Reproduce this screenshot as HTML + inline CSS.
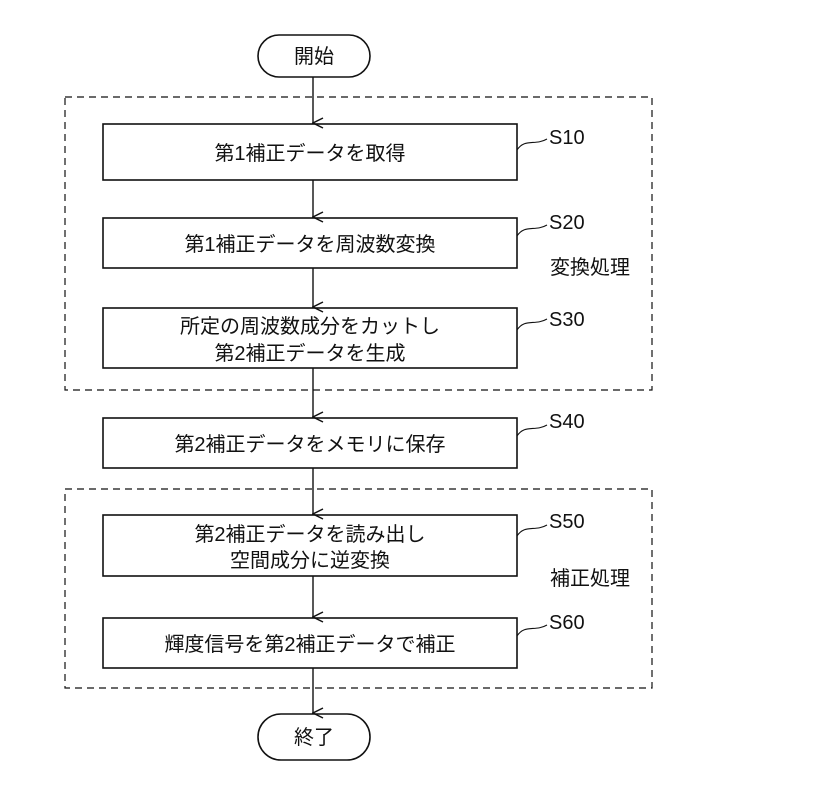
<!DOCTYPE html>
<html><head><meta charset="utf-8"><style>
html,body{margin:0;padding:0;background:#fff;}
svg text{font-family:"Liberation Sans","Noto Sans CJK JP",sans-serif;fill:#111;}
</style></head><body>
<svg width="815" height="791" viewBox="0 0 815 791" xmlns="http://www.w3.org/2000/svg">
<defs><marker id="a" markerWidth="12" markerHeight="12" refX="6" refY="11" orient="auto" markerUnits="userSpaceOnUse"><path d="M1,1 L6,11 L11,1" fill="none" stroke="#111" stroke-width="1.5"/></marker></defs>
<g fill="none" stroke="#111" stroke-width="1.6">
<rect x="258" y="35" width="112" height="42" rx="21"/>
<rect x="258" y="714" width="112" height="46" rx="23"/>
<rect x="65" y="97" width="587" height="293" stroke-dasharray="7,5" stroke-width="1.2"/>
<rect x="65" y="489" width="587" height="199" stroke-dasharray="7,5" stroke-width="1.2"/>
<rect x="103" y="124" width="414" height="56"/>
<rect x="103" y="218" width="414" height="50"/>
<rect x="103" y="308" width="414" height="60"/>
<rect x="103" y="418" width="414" height="50"/>
<rect x="103" y="515" width="414" height="61"/>
<rect x="103" y="618" width="414" height="50"/>
<g stroke-width="1.4">
<line x1="313" y1="77" x2="313" y2="123" marker-end="url(#a)"/>
<line x1="313" y1="180" x2="313" y2="217" marker-end="url(#a)"/>
<line x1="313" y1="268" x2="313" y2="307" marker-end="url(#a)"/>
<line x1="313" y1="368" x2="313" y2="417" marker-end="url(#a)"/>
<line x1="313" y1="468" x2="313" y2="514" marker-end="url(#a)"/>
<line x1="313" y1="576" x2="313" y2="617" marker-end="url(#a)"/>
<line x1="313" y1="668" x2="313" y2="713" marker-end="url(#a)"/>
</g>
<g stroke-width="1.1">
<path d="M517,150 C525,138 535,146 547,139"/>
<path d="M517,236 C525,224 535,232 547,225"/>
<path d="M517,330 C525,318 535,326 547,319"/>
<path d="M517,436 C525,424 535,432 547,425"/>
<path d="M517,536 C525,524 535,532 547,525"/>
<path d="M517,636 C525,624 535,632 547,625"/>
</g>
</g>
<g font-size="20" text-anchor="middle">
<text x="314" y="63">開始</text>
<text x="314" y="744">終了</text>
<text x="310" y="160">第1補正データを取得</text>
<text x="310" y="251">第1補正データを周波数変換</text>
<text x="310" y="333">所定の周波数成分をカットし</text>
<text x="310" y="360">第2補正データを生成</text>
<text x="310" y="451">第2補正データをメモリに保存</text>
<text x="310" y="541">第2補正データを読み出し</text>
<text x="310" y="567">空間成分に逆変換</text>
<text x="310" y="651">輝度信号を第2補正データで補正</text>
</g>
<g font-size="20">
<text x="549" y="144">S10</text>
<text x="549" y="229">S20</text>
<text x="549" y="326">S30</text>
<text x="549" y="428">S40</text>
<text x="549" y="528">S50</text>
<text x="549" y="629">S60</text>
<text x="550" y="274">変換処理</text>
<text x="550" y="585">補正処理</text>
</g>
</svg>
</body></html>
